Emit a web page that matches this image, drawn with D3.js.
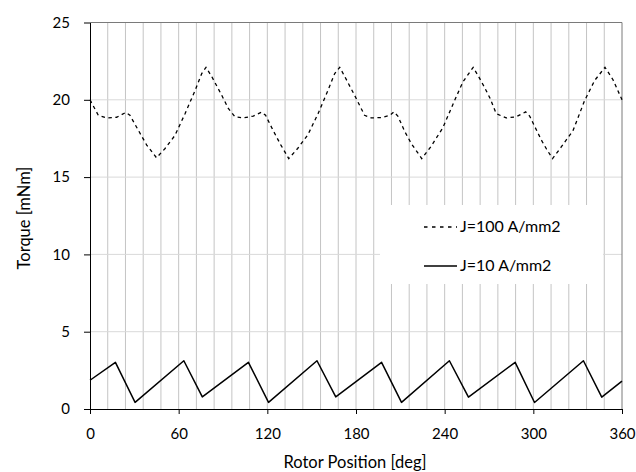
<!DOCTYPE html>
<html>
<head>
<meta charset="utf-8">
<script src="https://cdn.jsdelivr.net/npm/d3@7"></script>
<style>
  body { margin: 0; background: #fff; }
  text { font-family: Lato, "Open Sans", sans-serif; fill: #000; }
</style>
</head>
<body>
<div id="torque-chart"></div>
<script>
// axis ticks
const xTicks = [0, 60, 120, 180, 240, 300, 360];
const yTicks = [0, 5, 10, 15, 20, 25];

// J=100 A/mm2 (dashed)
const dashDeg = [0, 5.6, 11.3, 18, 24.2, 27, 32.7, 38.4, 45, 50.8, 57.5, 64.3, 71.1, 75.6, 78.5, 82.4, 89.1,
  93.6, 98.1, 103.8, 110.5, 116.2, 118.8, 124, 129, 134.5, 140.5, 147.5, 154.3, 161, 165.6, 169, 172.4, 179,
  185.8, 190.3, 197.1, 203, 205.6, 208.3, 213, 217.4, 224.5, 230.9, 238.8, 246.7, 252.3, 259.3, 263, 267,
  270.7, 274.9, 281.6, 288.4, 294.8, 297.5, 305.4, 309, 313, 318.9, 326.8, 334.7, 341.5, 348.5, 353.9, 360];
const dashTorque = [20.0, 19.0, 18.83, 18.87, 19.18, 19.0, 18.03, 17.07, 16.25, 16.85, 17.7, 19.1, 20.6, 21.7, 22.1, 21.5, 20.3,
  19.44, 18.9, 18.83, 18.95, 19.2, 19.0, 18.0, 17.1, 16.2, 16.85, 17.75, 19.1, 20.6, 21.7, 22.1, 21.5, 20.3,
  19.0, 18.83, 18.85, 19.0, 19.22, 18.95, 17.95, 17.17, 16.2, 17.0, 18.2, 19.95, 21.15, 22.1, 21.5, 20.8,
  20.1, 19.1, 18.83, 18.9, 19.22, 18.95, 17.4, 16.8, 16.2, 16.95, 18.0, 19.95, 21.25, 22.1, 21.3, 20.0];

// J=10 A/mm2 (solid)
const solidDeg = [0, 17.2, 30.5, 63.5, 76, 107.2, 120.8, 153.6, 166.3, 197.3, 210.8, 243.2, 256.1, 287.7, 300.8, 333.9, 346.3, 360];
const solidTorque = [1.86, 3.02, 0.43, 3.12, 0.78, 3.02, 0.43, 3.12, 0.78, 3.02, 0.43, 3.12, 0.77, 3.02, 0.42, 3.12, 0.77, 1.8];

const legendLabels = ["J=100 A/mm2", "J=10 A/mm2"];

// Set the dimensions and margins of the graph
const margin = { top: 22.5, right: 14, bottom: 63, left: 90 };
const width = 636 - margin.left - margin.right;
const height = 472 - margin.top - margin.bottom;

const svg = d3
  .select("#torque-chart")
  .append("svg")
  .attr("width", 636)
  .attr("height", 472)
  .append("g")
  .attr("transform", `translate(${margin.left},${margin.top})`);

const x = d3.scaleLinear().domain([0, 360]).range([0, width]);
const y = d3.scaleLinear().domain([0, 25]).range([height, 0]);

// vertical grid every 12 deg
svg
  .append("g")
  .selectAll("line")
  .data(d3.range(12, 360, 12))
  .join("line")
  .attr("x1", (d) => x(d))
  .attr("x2", (d) => x(d))
  .attr("y1", 0)
  .attr("y2", height)
  .attr("stroke", "#c4c4c4")
  .attr("stroke-width", 1);

// horizontal grid
svg
  .append("g")
  .selectAll("line")
  .data(yTicks.slice(1, -1))
  .join("line")
  .attr("x1", 0)
  .attr("x2", width)
  .attr("y1", (d) => y(d))
  .attr("y2", (d) => y(d))
  .attr("stroke", "#d9d9d9")
  .attr("stroke-width", 1);

// top and right border
svg
  .append("path")
  .attr("d", `M0,${y(25)}H${x(360)}V${y(0)}`)
  .attr("fill", "none")
  .attr("stroke", "#7a7a7a")
  .attr("stroke-width", 1);

// legend box (covers the grid)
const legend = svg.append("g").attr("transform", `translate(${380 - margin.left},${205 - margin.top})`);
legend.append("rect").attr("width", 223).attr("height", 79).attr("fill", "#fff");

// lines
const dashData = dashDeg.map((d, i) => ({ deg: d, t: dashTorque[i] }));
const solidData = solidDeg.map((d, i) => ({ deg: d, t: solidTorque[i] }));
const line = d3
  .line()
  .x((d) => x(d.deg))
  .y((d) => y(d.t));

svg
  .append("path")
  .datum(dashData)
  .attr("d", line)
  .attr("fill", "none")
  .attr("stroke", "#000")
  .attr("stroke-width", 1.3)
  .attr("stroke-dasharray", "3.5,3.5");

svg
  .append("path")
  .datum(solidData)
  .attr("d", line)
  .attr("fill", "none")
  .attr("stroke", "#000")
  .attr("stroke-width", 1.5)
  .attr("stroke-linejoin", "round");

// Add X axis
const xAxis = svg
  .append("g")
  .attr("transform", `translate(0,${height})`)
  .call(d3.axisBottom(x).tickValues(xTicks).tickSize(5).tickSizeOuter(0).tickPadding(14));
xAxis.select(".domain").attr("stroke", "#000");
xAxis.selectAll("text").style("font-size", "15px").attr("font-family", null);

// Add Y axis
const yAxis = svg
  .append("g")
  .call(d3.axisLeft(y).tickValues(yTicks).tickSize(6).tickSizeOuter(0).tickPadding(14));
yAxis.selectAll("text").style("font-size", "15px").attr("font-family", null);

// axis labels
svg
  .append("text")
  .attr("x", x(180) - 1)
  .attr("y", 467.5 - margin.top)
  .attr("text-anchor", "middle")
  .style("font-size", "16.5px")
  .text("Rotor Position [deg]");

svg
  .append("text")
  .attr("transform", `translate(${30 - margin.left},${218 - margin.top}) rotate(-90)`)
  .attr("text-anchor", "middle")
  .style("font-size", "16.5px")
  .text("Torque [mNm]");

// legend entries
legendLabels.forEach((label, i) => {
  const ly = 22 + i * 39;
  legend
    .append("line")
    .attr("x1", 44)
    .attr("x2", 77)
    .attr("y1", ly)
    .attr("y2", ly)
    .attr("stroke", "#000")
    .attr("stroke-width", i === 0 ? 1.3 : 1.5)
    .attr("stroke-dasharray", i === 0 ? "3.5,4.5" : null);
  legend
    .append("text")
    .attr("x", 80)
    .attr("y", ly + 5)
    .style("font-size", "16px")
    .text(label);
});
</script>
</body>
</html>
